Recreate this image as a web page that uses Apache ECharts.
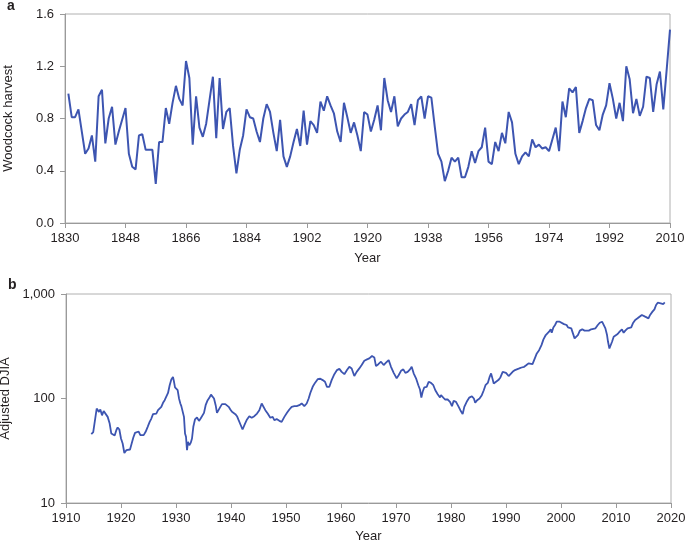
<!DOCTYPE html>
<html>
<head>
<meta charset="utf-8">
<script src="https://cdn.jsdelivr.net/npm/echarts@6/dist/echarts.min.js"></script>
<style>
html,body{margin:0;padding:0;background:#fff;}
#chart{width:685px;height:542px;}
</style>
</head>
<body>
<div id="chart"></div>
<script>
// ---- Panel a: woodcock harvest (annual) ----
const woodcockStartYear = 1831;
const woodcockValues = [
0.99,0.81,0.81,0.87,0.70,0.53,0.57,0.67,0.47,0.97,
1.02,0.61,0.80,0.89,0.60,0.70,0.79,0.88,0.53,0.43,
0.41,0.67,0.68,0.56,0.56,0.56,0.30,0.62,0.62,0.88,
0.76,0.92,1.05,0.95,0.90,1.24,1.11,0.60,0.97,0.73,
0.66,0.76,0.94,1.12,0.65,1.11,0.72,0.85,0.88,0.59,
0.38,0.56,0.67,0.87,0.81,0.80,0.70,0.62,0.80,0.91,
0.85,0.69,0.55,0.79,0.51,0.43,0.51,0.62,0.72,0.59,
0.86,0.60,0.78,0.75,0.69,0.93,0.86,0.97,0.90,0.84,
0.70,0.62,0.92,0.81,0.69,0.77,0.67,0.55,0.85,0.83,
0.70,0.79,0.90,0.71,1.11,0.94,0.85,0.97,0.74,0.80,
0.83,0.85,0.91,0.75,0.94,0.97,0.80,0.97,0.96,0.74,
0.53,0.47,0.32,0.40,0.50,0.47,0.50,0.35,0.35,0.43,
0.55,0.46,0.55,0.58,0.73,0.47,0.45,0.62,0.55,0.69,
0.61,0.85,0.77,0.53,0.45,0.51,0.54,0.51,0.64,0.58,
0.60,0.57,0.58,0.55,0.64,0.73,0.55,0.93,0.81,1.03,
1.00,1.04,0.69,0.78,0.88,0.95,0.94,0.75,0.71,0.83,
0.90,1.07,0.95,0.80,0.92,0.78,1.20,1.10,0.84,0.95,
0.82,0.89,1.12,1.11,0.85,1.06,1.16,0.87,1.17,1.48
];
const woodcockYears = woodcockValues.map((v, i) => woodcockStartYear + i);
const woodcockYearTicks = [1830,1848,1866,1884,1902,1920,1938,1956,1974,1992,2010];
const woodcockValueTicks = [0.0,0.4,0.8,1.2,1.6];

// ---- Panel b: adjusted DJIA ----
const djiaYears = [
1914.6,1914.95,1915.27,1915.58,1915.76,1916.0,1916.24,1916.55,1916.85,1917.21,
1917.58,1917.94,1918.24,1918.55,1918.85,1919.15,1919.39,1919.7,1920.0,1920.3,
1920.61,1920.97,1921.33,1921.64,1921.94,1922.24,1922.55,1922.91,1923.21,1923.52,
1923.82,1924.12,1924.48,1924.85,1925.21,1925.52,1925.82,1926.12,1926.42,1926.73,
1927.03,1927.33,1927.64,1927.94,1928.24,1928.55,1928.85,1929.15,1929.45,1929.64,
1929.82,1930.06,1930.3,1930.55,1930.79,1930.97,1931.21,1931.45,1931.64,1931.82,
1932.0,1932.18,1932.42,1932.67,1932.91,1933.15,1933.45,1933.82,1934.18,1934.48,
1934.79,1935.09,1935.39,1935.7,1936.06,1936.36,1936.67,1936.91,1937.21,1937.45,
1937.76,1938.06,1938.36,1938.67,1938.97,1939.27,1939.58,1939.88,1940.18,1940.48,
1940.79,1941.09,1941.39,1941.7,1942.1,1942.55,1942.91,1943.33,1943.76,1944.24,
1944.73,1945.15,1945.58,1945.94,1946.24,1946.67,1947.15,1947.58,1947.88,1948.3,
1948.79,1949.21,1949.7,1950.18,1950.61,1951.03,1951.52,1951.94,1952.42,1952.85,
1953.33,1953.76,1954.12,1954.42,1954.85,1955.27,1955.76,1956.24,1956.67,1957.09,
1957.45,1957.88,1958.3,1958.79,1959.27,1959.7,1960.12,1960.61,1961.09,1961.52,
1961.94,1962.42,1962.85,1963.33,1963.76,1964.24,1964.73,1965.15,1965.64,1966.06,
1966.36,1966.79,1967.27,1967.76,1968.18,1968.67,1969.09,1969.58,1970.12,1970.48,
1970.91,1971.33,1971.7,1972.12,1972.55,1972.85,1973.21,1973.64,1974.06,1974.36,
1974.61,1974.85,1975.15,1975.58,1975.94,1976.36,1976.79,1977.15,1977.58,1978.0,
1978.18,1978.48,1978.91,1979.39,1979.82,1980.18,1980.48,1980.91,1981.33,1981.7,
1982.12,1982.42,1982.85,1983.33,1983.8,1984.16,1984.4,1984.76,1985.19,1985.6,
1985.96,1986.27,1986.69,1986.99,1987.29,1987.59,1987.77,1988.19,1988.61,1988.98,
1989.4,1989.7,1990.0,1990.18,1990.48,1990.78,1991.2,1991.63,1991.99,1992.41,
1992.83,1993.31,1993.73,1994.1,1994.4,1994.82,1995.24,1995.6,1996.02,1996.45,
1996.81,1997.23,1997.53,1997.83,1998.13,1998.31,1998.61,1998.92,1999.22,1999.52,
1999.76,2000.06,2000.54,2001.02,2001.27,2001.57,2001.87,2002.17,2002.47,2002.77,
2003.07,2003.43,2003.86,2004.28,2004.64,2005.06,2005.48,2005.84,2006.27,2006.69,
2007.05,2007.47,2007.77,2008.07,2008.37,2008.55,2008.8,2008.98,2009.28,2009.58,
2009.88,2010.3,2010.66,2011.08,2011.39,2011.69,2012.11,2012.47,2012.77,2013.07,
2013.49,2013.92,2014.28,2014.7,2015.0,2015.3,2015.6,2015.9,2016.2,2016.63,
2016.99,2017.29,2017.59,2017.89,2018.13,2018.37,2018.61,2018.86
];
const djiaValues = [
45.5,47.6,62,80,82,74.5,78.5,69,76,77,
66.7,57.6,46.2,45.5,44.2,49.8,52.8,50.5,41.4,37.1,
30.1,32,33.2,32.5,37.1,42.3,46.9,49,48.3,44.6,
46.2,44.6,48,53.6,59.8,64.3,70.8,72.9,71.8,77.3,
78.5,83.2,90.9,96.4,100,113,134,152,161,144.5,
127.6,131,120,100,89.6,84.5,86.3,66.7,46.2,43,
32,38.5,35.7,37.6,41.4,53.6,63,65.8,61.1,64.3,
65.8,72.9,86.3,95,101.5,109,107.6,100,86.3,72.9,
72.9,83.2,88.3,84.5,88.3,87.5,83.2,78.5,74.5,73,
70.8,67.7,62,56.7,50.5,57.6,63,67.7,65.4,67.7,
71.8,77.3,89.6,88.3,77.3,71.8,65.4,66.7,62,63.5,
61.1,59.8,66.7,72.9,78.5,83.2,84.5,84.5,86.3,89.6,
84.5,89.6,100,113,129.4,141,153,154.5,150,144.5,
129.4,129.4,150,171,187,192,180,171,187,201,
194,164,180,194,209,230,237,242,255,247,
204,213,225,209,220,233,201,176,156,167,
184,190,176,180,190,201,174,156,134,122,
102,116,128,129,144.5,141,134,120,110,102.4,
107.6,104,97.8,97.8,92.9,84.5,95,92.9,84.5,77.3,
70.8,83.2,93,102,105,100,91,96.4,100,107.6,
120,134,141,159,174,167,139,144.5,150,159,
180,184,176,182,164,171,180,187,194,194,
198,201,209,217,210,213,242,270,290,324,
368,405,420,436,459,426,479,505,543,564,
543,531,515,505,479,459,469,420,376,368,
405,446,459,446,459,446,459,452,469,505,
531,543,524,469,405,349,301,310,349,390,
405,414,436,459,426,446,469,486,479,524,
564,585,607,630,630,607,615,585,630,678,
713,785,826,845,815,845,802,830
];
const djiaYearTicks = [1910,1920,1930,1940,1950,1960,1970,1980,1990,2000,2010,2020];
const djiaValueTicks = [10,100,1000];

// ---- build chart ----
const LINE = '#3d55b1';
const AXIS = '#9a9a9a';
const TXT = '#231f20';
const FONT = '"Liberation Sans", Arial, Helvetica, sans-serif';

const chart = echarts.init(document.getElementById('chart'), null, {renderer: 'canvas'});

function xAxisBase(gridIndex, ticks, gap) {
  return {
    type: 'value', gridIndex,
    min: ticks[0], max: ticks[ticks.length - 1],
    name: 'Year', nameLocation: 'middle', nameGap: gap,
    nameTextStyle: {color: TXT, fontSize: 13, fontFamily: FONT},
    axisLine: {show: true, onZero: false, lineStyle: {color: AXIS, width: 1}},
    axisTick: {show: true, length: 5, lineStyle: {color: AXIS}, customValues: ticks},
    axisLabel: {color: TXT, fontSize: 13, fontFamily: FONT, margin: 9, customValues: ticks,
      hideOverlap: false, formatter: v => String(v)},
    splitLine: {show: false}
  };
}

const option = {
  animation: false,
  backgroundColor: '#fff',
  textStyle: {fontFamily: FONT},
  title: [
    {text: 'a', left: 2, top: -6, textStyle: {fontSize: 14, fontWeight: 'bold', color: TXT, fontFamily: FONT}},
    {text: 'b', left: 3, top: 273, textStyle: {fontSize: 14, fontWeight: 'bold', color: TXT, fontFamily: FONT}}
  ],
  grid: [
    {left: 65, top: 14, width: 605, height: 209, show: true, borderColor: '#b0b0b0', borderWidth: 1,
      containLabel: false, outerBoundsMode: 'none'},
    {left: 66, top: 294, width: 605, height: 209, show: true, borderColor: '#b0b0b0', borderWidth: 1,
      containLabel: false, outerBoundsMode: 'none'}
  ],
  xAxis: [
    xAxisBase(0, woodcockYearTicks, 29),
    xAxisBase(1, djiaYearTicks, 27)
  ],
  yAxis: [
    {
      type: 'value', gridIndex: 0,
      min: woodcockValueTicks[0], max: woodcockValueTicks[woodcockValueTicks.length - 1],
      interval: 0.4,
      name: 'Woodcock harvest', nameLocation: 'middle', nameGap: 50,
      nameTextStyle: {color: TXT, fontSize: 13, fontFamily: FONT},
      axisLine: {show: true, lineStyle: {color: AXIS}},
      axisTick: {show: true, length: 5, lineStyle: {color: AXIS}},
      axisLabel: {color: TXT, fontSize: 13, fontFamily: FONT, margin: 11, formatter: v => v.toFixed(1)},
      splitLine: {show: false}
    },
    {
      type: 'log', logBase: 10, gridIndex: 1,
      min: djiaValueTicks[0], max: djiaValueTicks[djiaValueTicks.length - 1],
      name: 'Adjusted DJIA', nameLocation: 'middle', nameGap: 48,
      nameTextStyle: {color: TXT, fontSize: 13, fontFamily: FONT},
      axisLine: {show: true, lineStyle: {color: AXIS}},
      axisTick: {show: true, length: 5, lineStyle: {color: AXIS}},
      minorTick: {show: false},
      axisLabel: {color: TXT, fontSize: 13, fontFamily: FONT, margin: 11,
        formatter: v => Math.round(v).toLocaleString('en-US')},
      splitLine: {show: false}
    }
  ],
  series: [
    {
      type: 'line', xAxisIndex: 0, yAxisIndex: 0,
      data: woodcockYears.map((y, i) => [y, woodcockValues[i]]),
      showSymbol: false, symbol: 'none',
      lineStyle: {color: LINE, width: 2}, itemStyle: {color: LINE}
    },
    {
      type: 'line', xAxisIndex: 1, yAxisIndex: 1,
      data: djiaYears.map((y, i) => [y, djiaValues[i]]),
      showSymbol: false, symbol: 'none',
      lineStyle: {color: LINE, width: 1.8}, itemStyle: {color: LINE}
    }
  ]
};
chart.setOption(option);
</script>
</body>
</html>
